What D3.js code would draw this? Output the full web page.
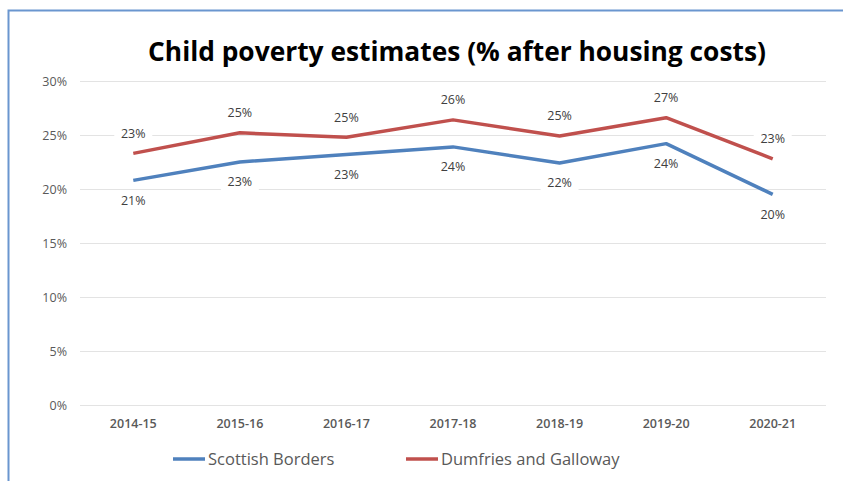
<!DOCTYPE html>
<html>
<head>
<meta charset="utf-8">
<script src="https://cdn.jsdelivr.net/npm/d3@7"></script>
<style>
  body { margin: 0; background: #fff; }
  svg { display: block; font-family: "Open Sans", "Noto Sans", sans-serif; }
</style>
</head>
<body>
<svg id="chart" width="843" height="481"></svg>
<script>
'use strict';

// data
const years = ["2014-15", "2015-16", "2016-17", "2017-18", "2018-19", "2019-20", "2020-21"];
const scottishBorders = [20.8, 22.5, 23.2, 23.9, 22.4, 24.2, 19.5];
const dumfriesGalloway = [23.3, 25.2, 24.8, 26.4, 24.9, 26.6, 22.8];
const yTicks = [0, 5, 10, 15, 20, 25, 30];

const series = [
    {name: "Scottish Borders", values: scottishBorders, color: "#4f81bd", labelPos: "below"},
    {name: "Dumfries and Galloway", values: dumfriesGalloway, color: "#c0504d", labelPos: "above"}
];

const svg = d3.select("#chart");
const margin = {left: 80, right: 17, top: 81, bottom: 76};
const W = 843, H = 481;

// chart frame (only left and top edge show in the picture)
svg.append("path")
    .attr("d", "M8.5,481 L8.5,10.5 L843,10.5")
    .attr("fill", "none")
    .attr("stroke", "#6a96cf")
    .attr("stroke-width", 2);

const x = d3.scaleBand().domain(years).range([margin.left, W - margin.right]);
const y = d3.scaleLinear().domain([0, 30]).range([H - margin.bottom, margin.top]);

// gridlines
svg.append("g")
    .selectAll("line")
    .data(yTicks)
    .join("line")
    .attr("x1", margin.left)
    .attr("x2", W - margin.right)
    .attr("y1", d => Math.round(y(d)) + 0.5)
    .attr("y2", d => Math.round(y(d)) + 0.5)
    .attr("stroke", "#e3e3e3")
    .attr("stroke-width", 1);

// y axis labels
const yAxis = svg.append("g")
    .attr("transform", `translate(${margin.left - 13},0)`)
    .call(d3.axisLeft(y).tickValues(yTicks).tickSize(0).tickFormat(d => d + "%"));
yAxis.select(".domain").remove();
yAxis.selectAll("text")
    .attr("x", 0)
    .attr("fill", "#595959")
    .style("font-size", "12.5px")
    .style("font-family", "'Open Sans', sans-serif");

// x axis labels
const xAxis = svg.append("g")
    .attr("transform", `translate(0,${H - margin.bottom + 11})`)
    .call(d3.axisBottom(x).tickSize(0));
xAxis.select(".domain").remove();
xAxis.selectAll("text")
    .attr("fill", "#595959")
    .style("font-size", "12.5px")
    .style("font-weight", "600")
    .style("font-family", "'Open Sans', sans-serif");

// lines
const line = d3.line()
    .x((d, i) => x(years[i]) + x.bandwidth() / 2)
    .y(d => y(d));

series.forEach(function (s) {
    svg.append("path")
        .datum(s.values)
        .attr("fill", "none")
        .attr("stroke", s.color)
        .attr("stroke-width", 3.5)
        .attr("stroke-linejoin", "round")
        .attr("d", line);
});

// data labels with white boxes (they cut through the gridlines)
series.forEach(function (s) {
    const g = svg.append("g");
    s.values.forEach(function (v, i) {
        const cx = x(years[i]) + x.bandwidth() / 2;
        const cy = y(v) + (s.labelPos === "above" ? -20 : 20);
        g.append("rect")
            .attr("x", cx - 19)
            .attr("y", cy - 8)
            .attr("width", 38)
            .attr("height", 16)
            .attr("fill", "#fff");
        g.append("text")
            .attr("x", cx)
            .attr("y", cy)
            .attr("dy", "0.35em")
            .attr("text-anchor", "middle")
            .attr("fill", "#404040")
            .style("font-size", "12.5px")
            .text(Math.round(v) + "%");
    });
});

// title
const title = svg.append("text")
    .attr("x", 457)
    .attr("y", 61)
    .attr("text-anchor", "middle")
    .attr("fill", "#000")
    .style("font-size", "28px")
    .style("font-weight", "bold")
    .text("Child poverty estimates (% after housing costs)");
// squeeze to the width in the picture
const tw = title.node().getComputedTextLength();
if (tw > 618) title.style("font-size", (28 * 618 / tw) + "px");

// legend
const legendItems = [
    {s: series[0], x: 173},
    {s: series[1], x: 406}
];
legendItems.forEach(function (d) {
    svg.append("line")
        .attr("x1", d.x)
        .attr("x2", d.x + 32)
        .attr("y1", 459)
        .attr("y2", 459)
        .attr("stroke", d.s.color)
        .attr("stroke-width", 3.5);
    svg.append("text")
        .attr("x", d.x + 35)
        .attr("y", 459)
        .attr("dy", "0.35em")
        .attr("fill", "#595959")
        .style("font-size", "16.5px")
        .text(d.s.name);
});
</script>
</body>
</html>
